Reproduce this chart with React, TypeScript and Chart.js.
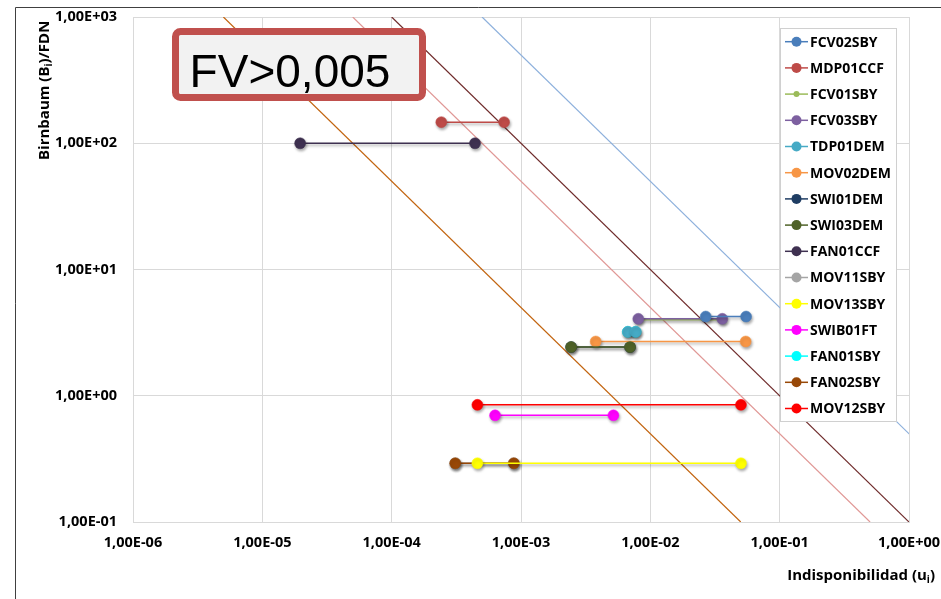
import React, { useEffect, useRef } from 'react';
import { Chart, registerables } from 'chart.js';

Chart.register(...registerables);

// ---- data ----
const seriesNames = ['FCV02SBY', 'MDP01CCF', 'FCV01SBY', 'FCV03SBY', 'TDP01DEM', 'MOV02DEM', 'SWI01DEM', 'SWI03DEM', 'FAN01CCF', 'MOV11SBY', 'MOV13SBY', 'SWIB01FT', 'FAN01SBY', 'FAN02SBY', 'MOV12SBY'];
const seriesColors = ['#4A7EBB', '#BE4B48', '#9BBB59', '#7D60A0', '#46AAC5', '#F79646', '#1F3D63', '#4F6228', '#3F3151', '#A5A5A5', '#FFFF00', '#FF00FF', '#00FFFF', '#984807', '#FF0000'];
const uLow = [0.0268, 2.42e-4, 8.07e-3, 8.07e-3, 6.7e-3, 3.78e-3, 2.44e-3, 2.44e-3, 1.96e-5, 3.1e-4, 4.6e-4, 6.3e-4, 6.7e-3, 3.1e-4, 4.6e-4];
const uHigh = [0.055, 7.4e-4, 0.036, 0.036, 7.7e-3, 0.0546, 6.97e-3, 6.97e-3, 4.41e-4, 8.8e-4, 0.0502, 5.18e-3, 7.7e-3, 8.8e-4, 0.0502];
const birnbaum = [4.24, 147, 4.0, 4.07, 3.21, 2.69, 2.43, 2.43, 100, 0.292, 0.292, 0.70, 3.21, 0.292, 0.847];
const drawOrder = [5, 12, 30, 11, 9, 8, 31, 7, 6, 32, 2, 3, 33, 4, 1];
const markerRadius = [5.5, 5.5, 3.5, 5.5, 5.5, 5.5, 5.5, 5.5, 5.5, 5.5, 5.5, 5.5, 5.5, 5.5, 5.5];

const fvLevels = [0.5, 0.1, 0.05, 0.005];
const fvColors = ['#8DB0DC', '#6E2A2A', '#E09896', '#C2640F'];

const xTicks = [1e-6, 1e-5, 1e-4, 1e-3, 1e-2, 1e-1, 1];
const yTicks = [0.1, 1, 10, 100, 1000];

const boxText = 'FV>0,005';
const xTitle = ['Indisponibilidad (u', 'i', ')'];
const yTitle = ['Birnbaum (B', 'i', ')/FDN'];

function sci(v: number): string {
  const e = Math.round(Math.log10(v));
  const m = v / Math.pow(10, e);
  return m.toFixed(2).replace('.', ',') + 'E' + (e < 0 ? '-' : '+') + String(Math.abs(e)).padStart(2, '0');
}

const FONT = '"Open Sans", "DejaVu Sans", sans-serif';

function drawSubText(ctx: CanvasRenderingContext2D, parts: string[], x: number, y: number, align: 'left' | 'right') {
  const main = `bold 15px ${FONT}`;
  const sub = `bold 10px ${FONT}`;
  ctx.font = main;
  const w0 = ctx.measureText(parts[0]).width;
  const w2 = ctx.measureText(parts[2]).width;
  ctx.font = sub;
  const w1 = ctx.measureText(parts[1]).width;
  const total = w0 + w1 + w2;
  let sx = align === 'left' ? x : x - total;
  ctx.textAlign = 'left';
  ctx.textBaseline = 'alphabetic';
  ctx.fillStyle = '#000';
  ctx.font = main;
  ctx.fillText(parts[0], sx, y);
  ctx.font = sub;
  ctx.fillText(parts[1], sx + w0, y + 3);
  ctx.font = main;
  ctx.fillText(parts[2], sx + w0 + w1, y);
}

const decorPlugin = {
  id: 'decor',
  beforeDatasetDraw(chart: any, args: any) {
    const ds = chart.data.datasets[args.index];
    const ctx = chart.ctx;
    ctx.save();
    if (!ds.isFV) {
      ctx.shadowColor = 'rgba(0,0,0,0.35)';
      ctx.shadowBlur = 3;
      ctx.shadowOffsetX = 1;
      ctx.shadowOffsetY = 2;
    }
  },
  afterDatasetDraw(chart: any) {
    chart.ctx.restore();
  },
  afterDatasetsDraw(chart: any) {
    const ctx = chart.ctx as CanvasRenderingContext2D;
    // FV box
    ctx.save();
    ctx.beginPath();
    (ctx as any).roundRect(175.5, 31.5, 247, 66, 5);
    ctx.fillStyle = '#F2F2F2';
    ctx.fill();
    ctx.lineWidth = 7;
    ctx.strokeStyle = '#C0504D';
    ctx.stroke();
    ctx.fillStyle = '#000';
    ctx.font = `46px "Liberation Sans", Arial, sans-serif`;
    ctx.textAlign = 'center';
    ctx.textBaseline = 'alphabetic';
    ctx.fillText(boxText, 290, 87);
    ctx.restore();

    // legend
    ctx.save();
    ctx.fillStyle = '#FFFFFF';
    ctx.fillRect(780.5, 28.5, 116, 393);
    ctx.strokeStyle = '#D0D0D0';
    ctx.lineWidth = 1;
    ctx.strokeRect(780.5, 28.5, 116, 393);
    const items = chart.data.datasets.filter((d: any) => !d.isFV);
    items.forEach((d: any, i: number) => {
      const y = 41.7 + i * 26.2;
      ctx.strokeStyle = d.borderColor;
      ctx.lineWidth = 1.5;
      ctx.beginPath();
      ctx.moveTo(785, y);
      ctx.lineTo(808, y);
      ctx.stroke();
      ctx.beginPath();
      ctx.arc(796.5, y, d.pointRadius - 0.5, 0, Math.PI * 2);
      ctx.fillStyle = d.backgroundColor;
      ctx.fill();
      ctx.fillStyle = '#000';
      ctx.font = `bold 14px ${FONT}`;
      ctx.textAlign = 'left';
      ctx.textBaseline = 'middle';
      ctx.fillText(d.label, 810, y + 1);
    });
    ctx.restore();
  },
  afterDraw(chart: any) {
    const ctx = chart.ctx as CanvasRenderingContext2D;
    ctx.save();
    // frame
    ctx.strokeStyle = '#404040';
    ctx.lineWidth = 1;
    ctx.beginPath();
    ctx.moveTo(15.5, 599);
    ctx.lineTo(15.5, 7.5);
    ctx.lineTo(941, 7.5);
    ctx.stroke();
    // x title
    drawSubText(ctx, xTitle, 935, 580, 'right');
    // y title
    ctx.translate(49, 160);
    ctx.rotate(-Math.PI / 2);
    drawSubText(ctx, yTitle, 0, 0, 'left');
    ctx.restore();
  },
};

export default function App() {
  const ref = useRef<HTMLCanvasElement | null>(null);
  useEffect(() => {
    if (!ref.current) return;
    const seriesDatasets = seriesNames.map((name, i) => ({
      label: name,
      data: [
        { x: uLow[i], y: birnbaum[i] },
        { x: uHigh[i], y: birnbaum[i] },
      ],
      borderColor: seriesColors[i],
      backgroundColor: seriesColors[i],
      pointBackgroundColor: seriesColors[i],
      pointBorderColor: seriesColors[i],
      pointRadius: markerRadius[i],
      pointBorderWidth: 0.5,
      borderWidth: 1.5,
      showLine: true,
      order: drawOrder[i],
      isFV: false,
    }));
    const fvDatasets = fvLevels.map((c, i) => ({
      label: 'FV=' + c,
      data: [
        { x: c / 1000, y: 1000 },
        { x: c / 0.1, y: 0.1 },
      ],
      borderColor: fvColors[i],
      backgroundColor: fvColors[i],
      pointRadius: 0,
      borderWidth: 1.2,
      showLine: true,
      order: 100,
      isFV: true,
    }));
    const chart = new Chart(ref.current, {
      type: 'scatter',
      data: { datasets: [...seriesDatasets, ...fvDatasets] as any },
      options: {
        animation: false,
        responsive: false,
        devicePixelRatio: 1,
        layout: { padding: { left: 0, top: 17, right: 32, bottom: 0 } },
        plugins: { legend: { display: false }, tooltip: { enabled: false }, title: { display: false } },
        scales: {
          x: {
            type: 'logarithmic',
            min: 1e-6,
            max: 1,
            afterBuildTicks: (s: any) => {
              s.ticks = xTicks.map((v) => ({ value: v }));
            },
            afterFit: (s: any) => {
              s.height = 77;
              s.paddingLeft = 0;
              s.paddingRight = 0;
            },
            ticks: {
              callback: (v: any) => sci(Number(v)),
              font: { family: FONT, weight: 'bold', size: 14.5 },
              color: '#000',
              padding: 12,
              autoSkip: false,
              maxRotation: 0,
            },
            grid: { color: '#D9D9D9', drawTicks: false },
            border: { color: '#D9D9D9' },
          },
          y: {
            type: 'logarithmic',
            min: 0.1,
            max: 1000,
            afterBuildTicks: (s: any) => {
              s.ticks = yTicks.map((v) => ({ value: v }));
            },
            afterFit: (s: any) => {
              s.width = 133;
              s.paddingTop = 0;
              s.paddingBottom = 0;
            },
            ticks: {
              callback: (v: any) => sci(Number(v)),
              font: { family: FONT, weight: 'bold', size: 14.5 },
              color: '#000',
              padding: 16,
              autoSkip: false,
            },
            grid: { color: '#D9D9D9', drawTicks: false },
            border: { color: '#D9D9D9' },
          },
        },
      } as any,
      plugins: [decorPlugin as any],
    });
    return () => chart.destroy();
  }, []);
  return (
    <div style={{ position: 'fixed', left: 0, top: 0, width: 941, height: 599, background: '#fff' }}>
      <canvas ref={ref} width={941} height={599} style={{ display: 'block', width: 941, height: 599 }} />
    </div>
  );
}
